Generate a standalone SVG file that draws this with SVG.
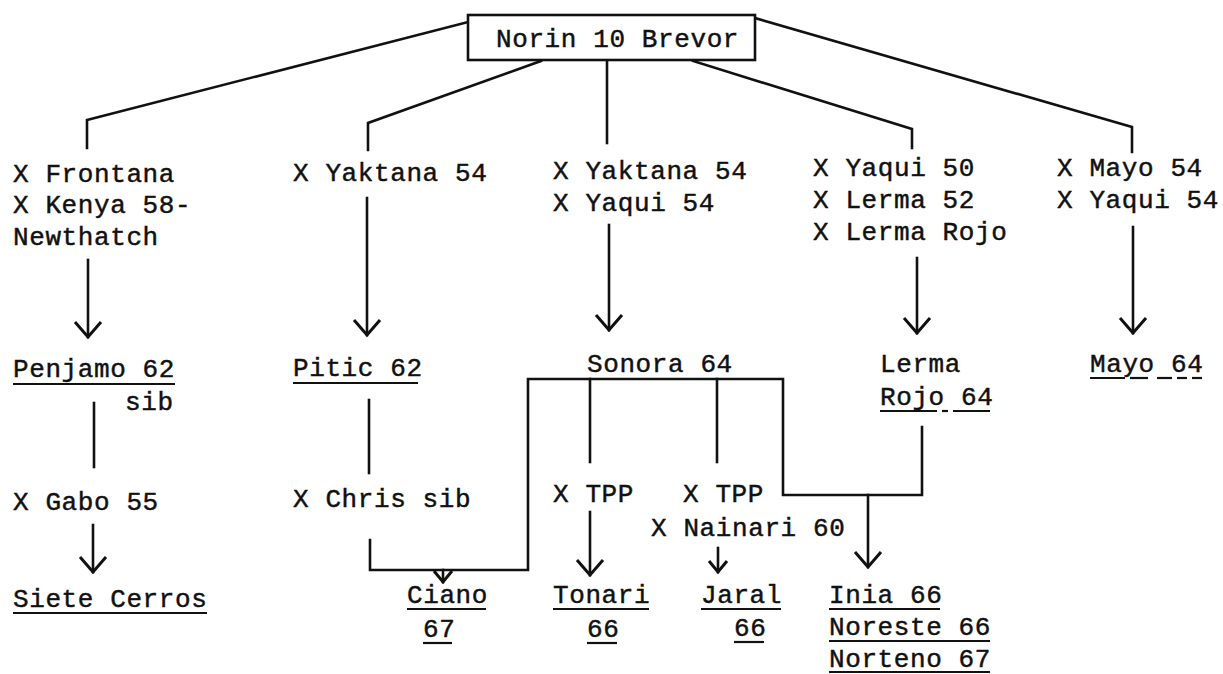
<svg xmlns="http://www.w3.org/2000/svg" width="1223" height="674" viewBox="0 0 1223 674">
<style>
text{font-family:"Liberation Mono","DejaVu Sans Mono",monospace;font-size:26px;letter-spacing:0.6px;fill:#111;stroke:#111;stroke-width:0.45px}
.c{fill:none;stroke:#111;stroke-width:2.6;stroke-linejoin:miter;stroke-linecap:square}
.u{stroke:#111;stroke-width:2.2}
.box{fill:#fff;stroke:#111;stroke-width:2.6}
</style>
<defs>
<marker id="arr" markerUnits="userSpaceOnUse" markerWidth="40" markerHeight="40" viewBox="-20 -20 40 40" refX="0" refY="0" orient="auto" overflow="visible">
<path d="M-15,-13 L0,0 L-15,13" fill="none" stroke="#111" stroke-width="3"/>
</marker>
<marker id="arrs" markerUnits="userSpaceOnUse" markerWidth="30" markerHeight="30" viewBox="-15 -15 30 30" refX="0" refY="0" orient="auto" overflow="visible">
<path d="M-11,-9 L0,0 L-11,9" fill="none" stroke="#111" stroke-width="3"/>
</marker>
</defs>
<rect width="1223" height="674" fill="#fff"/>
<g id="connectors">
<polyline class="c" points="468,22 87,120 87,148"/>
<polyline class="c" points="541,61 368,123 368,150"/>
<polyline class="c" points="607,61 607,143"/>
<polyline class="c" points="693,61 912,129 912,148"/>
<polyline class="c" points="755,18 1132,127 1132,152"/>
<line class="c" x1="88" y1="260" x2="88" y2="337" marker-end="url(#arr)"/>
<line class="c" x1="367" y1="198" x2="367" y2="335" marker-end="url(#arr)"/>
<line class="c" x1="609" y1="225" x2="609" y2="330" marker-end="url(#arr)"/>
<line class="c" x1="917" y1="258" x2="917" y2="333" marker-end="url(#arr)"/>
<line class="c" x1="1133" y1="227" x2="1133" y2="333" marker-end="url(#arr)"/>
<line class="c" x1="94" y1="403" x2="94" y2="467"/>
<line class="c" x1="93" y1="525" x2="93" y2="572" marker-end="url(#arr)"/>
<line class="c" x1="369" y1="400" x2="369" y2="473"/>
<polyline class="c" points="370,540 370,570 528,570 528,379 783,379 783,495 922,495 922,427"/>
<line class="c" x1="590" y1="379" x2="590" y2="462"/>
<line class="c" x1="717" y1="379" x2="717" y2="462"/>
<line class="c" x1="443" y1="570" x2="443" y2="582" marker-end="url(#arrs)"/>
<line class="c" x1="590" y1="512" x2="590" y2="575" marker-end="url(#arr)"/>
<line class="c" x1="718" y1="548" x2="718" y2="572" marker-end="url(#arrs)"/>
<line class="c" x1="868" y1="495" x2="868" y2="567" marker-end="url(#arr)"/>
</g>
<g id="norin">
<rect class="box" x="468" y="15" width="287" height="45"/>
<text x="496" y="47">Norin 10 Brevor</text>
</g>
<g id="frontana">
<text x="13" y="182">X Frontana</text>
<text x="13" y="213">X Kenya 58-</text>
<text x="13" y="245">Newthatch</text>
</g>
<g id="yaktana">
<text x="293" y="181">X Yaktana 54</text>
</g>
<g id="yaktana-yaqui">
<text x="553" y="179">X Yaktana 54</text>
<text x="553" y="211">X Yaqui 54</text>
</g>
<g id="yaqui50">
<text x="813" y="176">X Yaqui 50</text>
<text x="813" y="208">X Lerma 52</text>
<text x="813" y="240">X Lerma Rojo</text>
</g>
<g id="mayo54">
<text x="1057" y="176">X Mayo 54</text>
<text x="1057" y="208">X Yaqui 54</text>
</g>
<g id="penjamo">
<text x="13" y="377">Penjamo 62</text>
<line class="u" x1="13" y1="384" x2="175" y2="384"/>
<text x="125" y="410">sib</text>
</g>
<g id="pitic">
<text x="293" y="376">Pitic 62</text>
<line class="u" x1="293" y1="383" x2="418" y2="383"/>
</g>
<g id="sonora">
<text x="587" y="372">Sonora 64</text>
</g>
<g id="lerma-rojo">
<text x="880" y="372">Lerma</text>
<text x="880" y="405">Rojo 64</text>
<line class="u" x1="880" y1="411" x2="937" y2="411"/>
<line class="u" x1="942" y1="411" x2="948" y2="411"/>
<line class="u" x1="953" y1="411" x2="990" y2="411"/>
</g>
<g id="mayo64">
<text x="1090" y="372">Mayo 64</text>
<line class="u" x1="1090" y1="378" x2="1125" y2="378"/>
<line class="u" x1="1130" y1="378" x2="1148" y2="378"/>
<line class="u" x1="1157" y1="378" x2="1172" y2="378"/>
<line class="u" x1="1177" y1="378" x2="1187" y2="378"/>
<line class="u" x1="1192" y1="378" x2="1202" y2="378"/>
</g>
<g id="gabo">
<text x="13" y="510">X Gabo 55</text>
</g>
<g id="chris">
<text x="293" y="507">X Chris sib</text>
</g>
<g id="tpp1">
<text x="553" y="502">X TPP</text>
</g>
<g id="tpp2">
<text x="683" y="502">X TPP</text>
<text x="651" y="536">X Nainari 60</text>
</g>
<g id="siete-cerros">
<text x="13" y="607">Siete Cerros</text>
<line class="u" x1="13" y1="613" x2="207" y2="613"/>
</g>
<g id="ciano">
<text x="407" y="603">Ciano</text>
<line class="u" x1="407" y1="609" x2="486" y2="609"/>
<text x="423" y="637">67</text>
<line class="u" x1="423" y1="643" x2="452" y2="643"/>
</g>
<g id="tonari">
<text x="553" y="603">Tonari</text>
<line class="u" x1="553" y1="609" x2="649" y2="609"/>
<text x="587" y="637">66</text>
<line class="u" x1="587" y1="643" x2="617" y2="643"/>
</g>
<g id="jaral">
<text x="701" y="603">Jaral</text>
<line class="u" x1="701" y1="609" x2="781" y2="609"/>
<text x="734" y="636">66</text>
<line class="u" x1="734" y1="642" x2="764" y2="642"/>
</g>
<g id="inia">
<text x="829" y="603">Inia 66</text>
<line class="u" x1="829" y1="609" x2="940" y2="609"/>
<text x="829" y="635">Noreste 66</text>
<line class="u" x1="829" y1="641" x2="990" y2="641"/>
<text x="829" y="667">Norteno 67</text>
<line class="u" x1="829" y1="672" x2="990" y2="672"/>
</g>
</svg>
